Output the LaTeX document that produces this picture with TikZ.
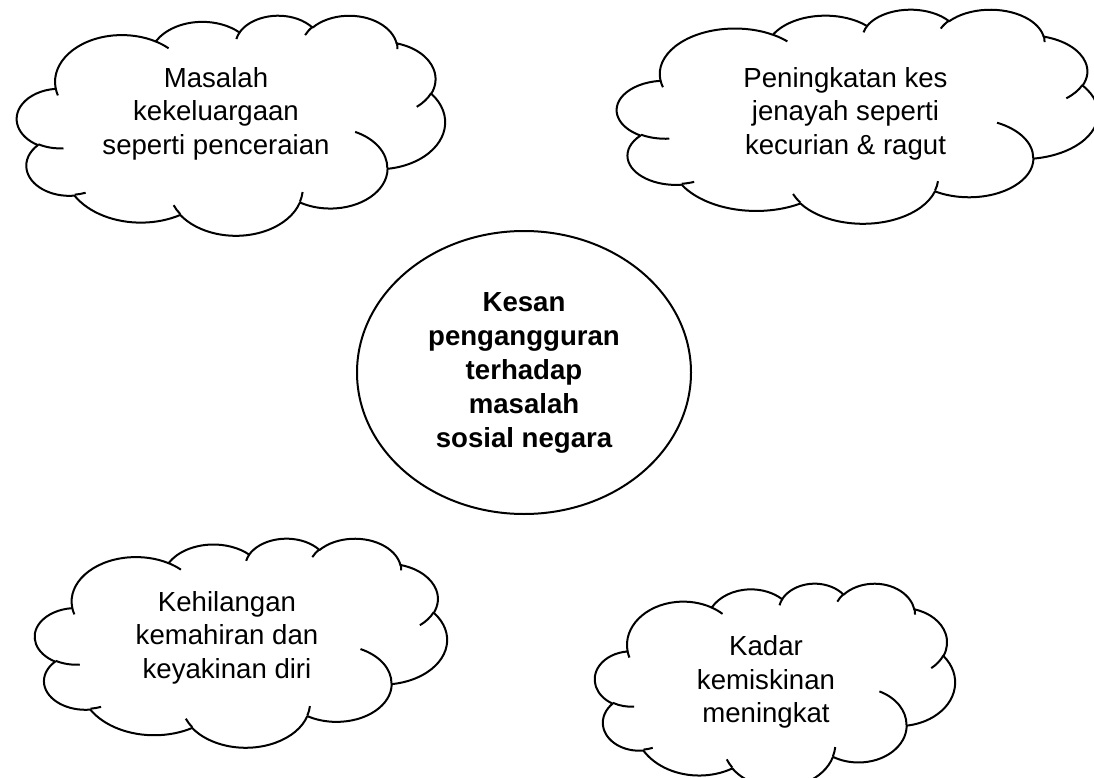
\documentclass[tikz,border=0pt]{standalone}
\usepackage{fontspec}
\setmainfont{Liberation Sans}
\usetikzlibrary{shapes.geometric}
% arcTo of DrawingML: radii rx, ry; geometric start angle and sweep (degrees)
\newcommand\carc[4]{\pgfextra{%
  \pgfmathparse{atan2((#1)*sin(#3),(#2)*cos(#3))}\global\let\cgts\pgfmathresult
  \pgfmathparse{atan2((#1)*sin((#3)+(#4)),(#2)*cos((#3)+(#4)))}\global\let\cgte\pgfmathresult
  \pgfmathparse{\cgte-\cgts}\global\let\cgd\pgfmathresult
  \pgfmathparse{\cgd+360*round(((#4)-\cgd)/360)}\global\let\cgd\pgfmathresult
 } arc[start angle=\cgts, delta angle=\cgd, x radius=#1, y radius=#2]}
\newcommand\wcloud[4]{%
 \begin{scope}[shift={(#1,#2)},xscale={(#3-#1)/100},yscale={(#4-#2)/100}]
  \draw[cloudline,fill=white] (9.028,33.264)
   \carc{15.632}{21.273}{-190.488}{123.781}
   \carc{12.345}{16.822}{-144.102}{89.945}
   \carc{10.104}{13.762}{-145.808}{99.723}
   \carc{11.243}{15.266}{-130.986}{117.242}
   \carc{12.345}{16.836}{-78.709}{109.027}
   \carc{15.683}{21.343}{-46.267}{130.269}
   \carc{13.391}{18.211}{0.625}{114.033}
   \carc{15.630}{21.331}{22.452}{115.173}
   \carc{17.870}{24.405}{66.243}{75.711}
   \carc{10.093}{13.699}{-274.942}{146.736}
   \carc{10.058}{13.762}{-246.829}{152.519}
   -- cycle;
  \draw[cloudline]
   (10.863,60.595) \carc{10.058}{13.762}{86.742}{26.430}
   (16.037,80.785) \carc{10.093}{13.699}{73.611}{11.447}
   (38.144,90.486) \carc{15.630}{21.331}{137.624}{14.081}
   (66.729,80.442) \carc{15.630}{21.331}{6.453}{15.998}
   (79.002,53.134) \carc{13.391}{18.211}{-70.292}{70.917}
   (96.755,35.542) \carc{12.345}{16.836}{30.318}{27.752}
   (88.713,12.560) \carc{11.243}{15.266}{-13.744}{14.859}
   (67.310,9.148)  \carc{11.243}{15.266}{-149.181}{18.195}
   (51.252,10.926) \carc{10.104}{13.762}{-163.494}{17.686}
   (32.407,12.019) \carc{15.632}{21.273}{-66.707}{12.319}
   (9.553,36.549)  \carc{15.632}{21.273}{157.654}{11.858};
 \end{scope}}
\tikzset{
  cloudline/.style={line width=2pt, line join=round},
  txt/.style={font=\fontsize{27.6}{33.5}\selectfont, align=center, inner sep=0pt},
}
\begin{document}
\begin{tikzpicture}[x=1pt,y=-1pt]
\fill[white] (0,0) rectangle (1094,778);
\useasboundingbox (0,0) rectangle (1094,778);
\wcloud{17}{15}{445}{235}
\wcloud{617}{9}{1098}{223}
\wcloud{35}{538}{447}{747}
\wcloud{595}{583}{955}{787}
\node[txt] (c1) at (216,113.5) {Masalah\\kekeluargaan\\seperti penceraian};
\node[txt] (c2) at (845.5,113.5) {Peningkatan kes\\jenayah seperti\\kecurian \& ragut};
\node[txt] (c3) at (227,637.5) {Kehilangan\\kemahiran dan\\keyakinan diri};
\node[txt] (c4) at (766,682) {Kadar\\kemiskinan\\meningkat};
\node[ellipse, draw, line width=2pt, minimum width=334pt, minimum height=283pt,
      txt, font=\fontsize{27.6}{34}\selectfont\bfseries] (core) at (524,372.5)
      {Kesan\\pengangguran\\terhadap\\masalah\\sosial negara};
\end{tikzpicture}
\end{document}
